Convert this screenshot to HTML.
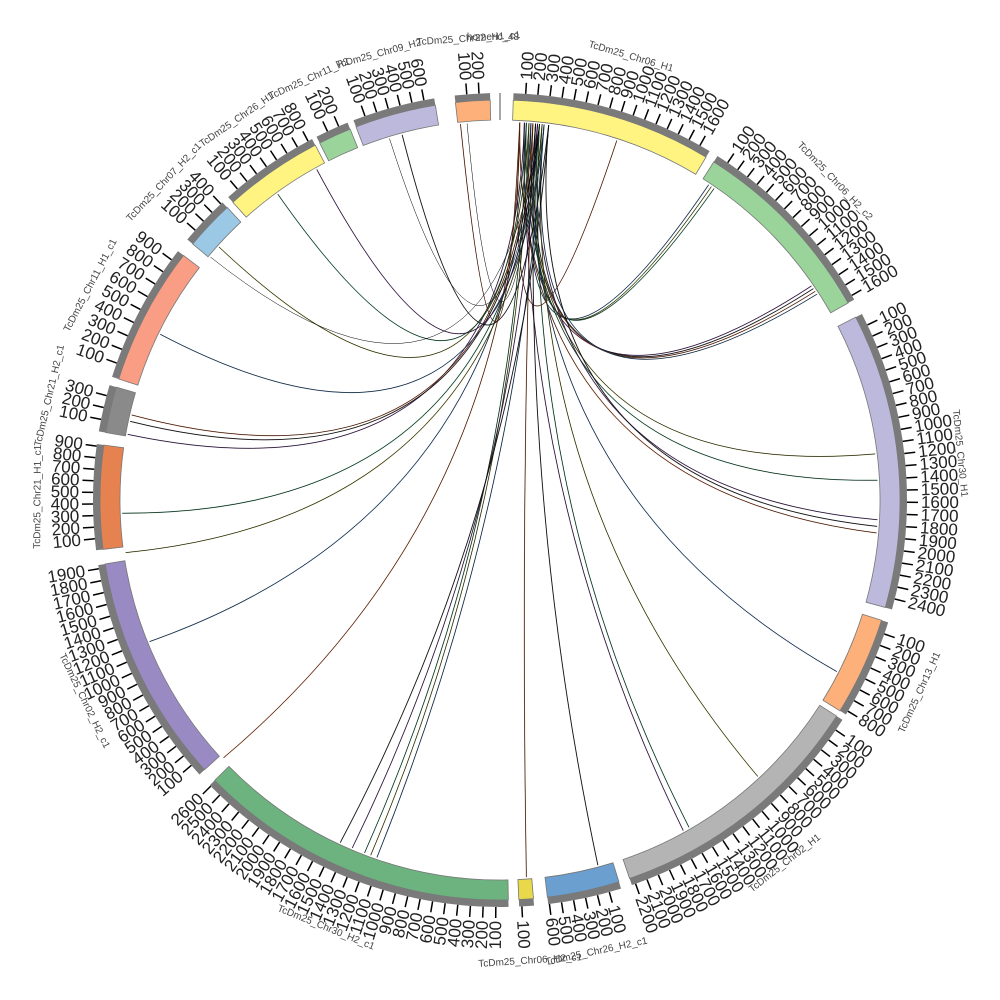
<!DOCTYPE html>
<html><head><meta charset="utf-8"><style>
html,body{margin:0;padding:0;background:#fff;width:1000px;height:1000px;overflow:hidden}
svg{font-family:"Liberation Sans",sans-serif}
</style></head><body>
<svg id="s" width="1000" height="1000" viewBox="0 0 1000 1000" xmlns="http://www.w3.org/2000/svg"></svg>
<script>
var S=document.getElementById('s'),NS='http://www.w3.org/2000/svg',cx=500,cy=500;
function el(t,a,txt){var e=document.createElementNS(NS,t);for(var k in a)e.setAttribute(k,a[k]);if(txt!=null)e.textContent=txt;S.appendChild(e);return e;}
function P(r,a){var t=a*Math.PI/180;return [cx+r*Math.sin(t),cy-r*Math.cos(t)];}
function arc(r1,r2,a1,a2){var p1=P(r2,a1),p2=P(r2,a2),p3=P(r1,a2),p4=P(r1,a1),l=(a2-a1)>180?1:0;
return 'M'+p1+' A'+r2+' '+r2+' 0 '+l+' 1 '+p2+' L'+p3+' A'+r1+' '+r1+' 0 '+l+' 0 '+p4+'Z';}
var segs=[
["TcDm25_Chr06_H1",1.9,31,"#fff481",1],
["TcDm25_Chr06_H2_c2",32.3,60.5,"#9ad49b",1],
["TcDm25_Chr30_H1",62.8,105.6,"#bcb9dc",1],
["TcDm25_Chr13_H1",107.5,121.8,"#fdb07a",1],
["TcDm25_Chr02_H1",122.7,161.1,"#b4b4b4",1],
["TcDm25_Chr26_H2_c1",162.7,173.2,"#6a9fd0",1],
["TcDm25_Chr06_H2_c1",175.2,177.3,"#e8d84a",1],
["TcDm25_Chr30_H2_c1",178.8,225.5,"#6db37f",1.04],
["TcDm25_Chr02_H2_c1",227.6,260.8,"#9a8ac3",1],
["TcDm25_Chr21_H1_c1",262.9,277.9,"#e5824f",0.95],
["TcDm25_Chr21_H2_c1",279.7,286.4,"#8a8a8a",1],
["TcDm25_Chr11_H1_c1",287.6,307.7,"#f99d85",1.2],
["TcDm25_Chr07_H2_c1",309.8,317,"#9ac8e5",1],
["TcDm25_Chr26_H1",318.1,332.5,"#fff481",1],
["TcDm25_Chr11_H2",333.2,338,"#9ad49b",1],
["TcDm25_Chr09_H2",338.9,350.7,"#bcb9dc",1],
["TcDm25_Chr22_H1_c1",353.6,358.6,"#fdb07a",1]];
var U=1.72;
var src=[[3,12],[4,10],[5,8],[6,6]];
var tg=[18,33.5,34,34.5,55.5,56,56.5,57,83,87,93,94,95,117,137,150,151,165,176,199,200,201,203,205,227,248,262,268,280,282,283,296,312,324,331,345,354];
var cols=["#c05a2a","#3a6ea5","#8a8a2a","#2a8a5a","#6a3a8a","#222"];
tg.forEach(function(t,i){var a=src[i%4][0]+ (i%3)*0.7;var p1=P(378,a),p2=P(378,t);var mid=(a+t)/2;
 var c=P(20,mid);var d='M'+p1+' Q'+c+' '+p2;
 el('path',{d:d,fill:'none',stroke:cols[i%6],'stroke-width':1.0,opacity:0.8});
 el('path',{d:d,fill:'none',stroke:'#000','stroke-width':0.5});});
[[310],[343],[355]].forEach(function(x){var a=x[0];var p1=P(378,a),p2=P(378,6);el('path',{d:'M'+p1+' Q'+P(20,(a+366)/2)+' '+p2,fill:'none',stroke:'#000','stroke-width':0.5});});
segs.forEach(function(s){
 el('path',{d:arc(380,400,s[1],s[2]),fill:s[3],stroke:'#777','stroke-width':0.8});
 el('path',{d:arc(400,407,s[1],s[2]),fill:'#7a7a7a'});
 var u=U*s[4];
 var n=Math.floor((s[2]-s[1])/u);
 for(var k=1;k<=n;k++){var a=s[1]+k*u;if(a>s[2])break;var p=P(407,a),q=P(418,a);
  el('line',{x1:p[0],y1:p[1],x2:q[0],y2:q[1],stroke:'#000','stroke-width':1.5});
  var L=P(421,a),rot=a-90,anc='start';if(a>180){rot=a+90;anc='end';}
  el('text',{x:L[0],y:L[1],'font-size':17,fill:'#222','text-anchor':anc,'dominant-baseline':'central',transform:'rotate('+rot+' '+L[0]+' '+L[1]+')'},String(k*100));}
 var m=(s[1]+s[2])/2,LP=P(462,m),r2=(m>90&&m<270)?m+180:m;
 el('text',{x:LP[0],y:LP[1],'font-size':10,fill:'#444','text-anchor':'middle','dominant-baseline':'central',transform:'rotate('+r2+' '+LP[0]+' '+LP[1]+')'},s[0]);
});
el('line',{x1:500,y1:93,x2:500,y2:120,stroke:'#888','stroke-width':1.5});
el('text',{x:493,y:40,'font-size':10,fill:'#444','text-anchor':'middle'},"homeric_48");
</script>
</body></html>
